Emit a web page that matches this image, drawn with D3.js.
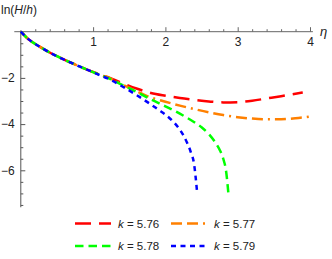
<!DOCTYPE html>
<html>
<head>
<meta charset="utf-8">
<script src="https://cdn.jsdelivr.net/npm/d3@7"></script>
<style>
  body { margin: 0; background: #fff; }
  text { font-family: "Liberation Sans", Arial, sans-serif; fill: #222; }
</style>
</head>
<body>
<div id="chart"></div>
<script>
var svgWidth = 332;
var svgHeight = 259;

// curve data (eta, ln(H/h))
var commonEta = [0, 0.1, 0.2, 0.3, 0.4, 0.5, 0.6, 0.7, 0.8, 0.9];
var commonVal = [0, -0.31, -0.53, -0.72, -0.9, -1.06, -1.21, -1.35, -1.49, -1.62];

var redEta = [1.0, 1.1, 1.2, 1.4, 1.6, 1.8, 2.0, 2.2, 2.4, 2.6, 2.8, 3.0, 3.2, 3.4, 3.6, 3.9];
var redVal = [-1.74, -1.85, -1.96, -2.22, -2.46, -2.65, -2.77, -2.87, -2.95, -3.02, -3.06, -3.05, -2.99, -2.89, -2.79, -2.63];

var orangeEta = [1.0, 1.1, 1.2, 1.4, 1.6, 1.8, 2.0, 2.2, 2.4, 2.6, 2.8, 3.0, 3.2, 3.4, 3.6, 3.8, 4.0];
var orangeVal = [-1.75, -1.87, -1.98, -2.28, -2.58, -2.85, -3.03, -3.2, -3.35, -3.49, -3.61, -3.7, -3.76, -3.79, -3.79, -3.75, -3.67];

var greenEta = [1.0, 1.1, 1.2, 1.4, 1.6, 1.8, 2.0, 2.2, 2.4, 2.5, 2.6, 2.7, 2.75, 2.8, 2.84, 2.87];
var greenVal = [-1.75, -1.88, -2.0, -2.3, -2.6, -2.93, -3.23, -3.55, -3.92, -4.14, -4.43, -4.84, -5.11, -5.5, -6.05, -6.96];

var blueEta = [1.0, 1.1, 1.2, 1.4, 1.6, 1.8, 1.9, 2.0, 2.1, 2.2, 2.3, 2.35, 2.4, 2.42, 2.44];
var blueVal = [-1.76, -1.89, -2.02, -2.36, -2.74, -3.15, -3.37, -3.59, -3.87, -4.24, -4.81, -5.2, -5.8, -6.35, -7.0];

var kLabels = ["5.76", "5.77", "5.78", "5.79"];
var colors = ["#ff0000", "#ff8000", "#00ff00", "#0000ff"];
var dashes = ["16,8", "11,5,11,5,2,5", "8.5,5", "5,4.5"];

var xTicks = [1, 2, 3, 4];
var yTicks = [-2, -4, -6];

function series(eta, val) {
  var pts = commonEta.map((e, i) => [e, commonVal[i]]);
  return pts.concat(eta.map((e, i) => [e, val[i]]));
}
var allSeries = [series(redEta, redVal), series(orangeEta, orangeVal), series(greenEta, greenVal), series(blueEta, blueVal)];

var svg = d3.select("#chart").append("svg")
  .attr("width", svgWidth)
  .attr("height", svgHeight);

var x = d3.scaleLinear().domain([0, 4]).range([20.8, 310]);
var y = d3.scaleLinear().domain([0, -6]).range([31.7, 170.3]);

// axes lines
svg.append("line")
  .attr("x1", x(-0.09)).attr("x2", x(4.04))
  .attr("y1", y(0)).attr("y2", y(0))
  .attr("stroke", "#666").attr("stroke-width", 1);
svg.append("line")
  .attr("x1", x(0)).attr("x2", x(0))
  .attr("y1", y(0.06)).attr("y2", y(-7.6))
  .attr("stroke", "#555").attr("stroke-width", 1);

// x ticks
var xMinor = d3.range(0.2, 4.01, 0.2).filter(v => Math.abs(v - Math.round(v)) > 0.01);
var gx = svg.append("g").attr("transform", `translate(0, ${y(0)})`);
gx.call(d3.axisBottom(x).tickValues(xMinor).tickSize(-2.5).tickFormat(""));
gx.call(g => g.append("g").call(d3.axisBottom(x).tickValues(xTicks).tickSize(-4.5).tickPadding(6).tickFormat(d3.format("d"))));
gx.selectAll(".domain").remove();
gx.selectAll("line").attr("stroke", "#666");
gx.selectAll("text").attr("font-size", 12).attr("fill", "#222").attr("font-family", "Liberation Sans, Arial, sans-serif");

// y ticks
var yMinor = d3.range(-0.5, -7.6, -0.5).filter(v => Math.abs(v % 2) > 0.01);
var gy = svg.append("g").attr("transform", `translate(${x(0)}, 0)`);
gy.call(d3.axisLeft(y).tickValues(yMinor).tickSize(-2.5).tickFormat(""));
gy.call(g => g.append("g").call(d3.axisLeft(y).tickValues(yTicks).tickSize(-4.5).tickPadding(6).tickFormat(d => "\u2212" + Math.abs(d))));
gy.selectAll(".domain").remove();
gy.selectAll("line").attr("stroke", "#555");
gy.selectAll("text").attr("font-size", 12).attr("fill", "#222").attr("font-family", "Liberation Sans, Arial, sans-serif");

// axis labels
var yl = svg.append("text").attr("x", 1).attr("y", 14).attr("font-size", 12);
yl.append("tspan").text("ln(");
yl.append("tspan").attr("font-style", "italic").text("H");
yl.append("tspan").text("/");
yl.append("tspan").attr("font-style", "italic").text("h");
yl.append("tspan").text(")");

svg.append("text").attr("x", 320).attr("y", 36).attr("font-size", 13)
  .attr("font-style", "italic").text("\u03b7");

// curves
var line = d3.line()
  .x(d => x(d[0]))
  .y(d => y(d[1]))
  .curve(d3.curveMonotoneX);

svg.append("g").selectAll("path")
  .data(allSeries)
  .enter()
  .append("path")
  .attr("d", line)
  .attr("fill", "none")
  .attr("stroke", (d, i) => colors[i])
  .attr("stroke-width", 2.5)
  .attr("stroke-dasharray", (d, i) => dashes[i]);

// legend
var legPos = [[75, 223.5], [171, 223.5], [75, 246], [171, 246]];
var legend = svg.append("g").selectAll("g")
  .data(kLabels)
  .enter()
  .append("g")
  .attr("transform", (d, i) => `translate(${legPos[i][0]}, ${legPos[i][1]})`);

legend.append("line")
  .attr("x1", 0).attr("x2", 36)
  .attr("y1", 0).attr("y2", 0)
  .attr("stroke", (d, i) => colors[i])
  .attr("stroke-width", 2.5)
  .attr("stroke-dasharray", (d, i) => dashes[i]);

var lt = legend.append("text").attr("x", 43).attr("y", 4).attr("font-size", 11.5);
lt.append("tspan").attr("font-style", "italic").text("k");
lt.append("tspan").text(d => " = " + d);
</script>
</body>
</html>
